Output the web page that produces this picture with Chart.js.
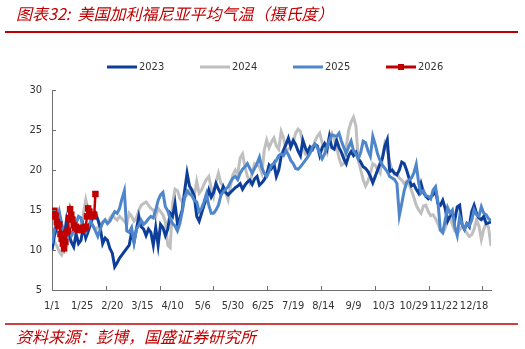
<!DOCTYPE html>
<html>
<head>
<meta charset="utf-8">
<script src="https://cdn.jsdelivr.net/npm/chart.js@4.4.1/dist/chart.umd.min.js"></script>
<style>
  body { margin: 0; background: #fff; }
  #wrap { width: 525px; height: 349px; }
</style>
</head>
<body>
<div id="wrap"><canvas id="chartCanvas" width="525" height="349"></canvas></div>
<script>
// 美国加利福尼亚平均气温（摄氏度），按年内日序排列
const tituloGrafico = '图表32:  美国加利福尼亚平均气温（摄氏度）';
const fonteDados = '资料来源：彭博，国盛证券研究所';

const rotulosX = ['1/1', '1/25', '2/20', '3/15', '4/10', '5/6', '5/30', '6/25', '7/19', '8/14', '9/9', '10/3', '10/29', '11/22', '12/18'];
const intervaloRotulo = 25; // dias entre rótulos do eixo X
const ticksY = [5, 10, 15, 20, 25, 30];

const anos = ['2023', '2024', '2025', '2026'];
const passoDias = 2;      // 2023-2025: um valor a cada 2 dias
const passoDias2026 = 1;  // 2026: diário

const temp2023 = [
  10.0, 11.8, 12.8, 13.8, 12.5, 11.6, 13.7, 12.0, 11.0, 10.4,
  12.0, 10.8, 11.2, 12.9, 11.5, 12.3, 13.2, 14.2, 14.6, 13.8,
  12.8, 10.8, 11.5, 11.2, 10.2, 9.6, 7.9, 8.4, 9.0, 9.4,
  9.8, 10.2, 10.6, 12.2, 11.0, 12.6, 14.2, 12.9, 12.6, 11.8,
  12.6, 12.2, 10.6, 12.8, 10.6, 13.2, 12.8, 11.8, 12.6, 14.6,
  14.2, 15.8, 13.3, 14.0, 15.0, 17.4, 19.6, 18.0, 17.5, 16.7,
  14.2, 13.6, 14.6, 15.6, 16.4, 17.5, 16.6, 17.2, 18.3, 17.6,
  17.0, 17.9, 17.2, 16.9, 17.2, 17.5, 17.8, 18.0, 18.3, 17.6,
  18.1, 18.5, 18.75, 18.2, 18.9, 19.2, 18.1, 18.4, 18.8, 19.4,
  20.6, 20.2, 20.8, 19.2, 20.0, 21.7, 22.5, 23.2, 24.0, 22.9,
  23.7, 23.2, 22.4, 21.8, 23.7, 22.8, 22.2, 22.9, 22.6, 23.2,
  23.0, 21.8, 22.8, 23.3, 22.6, 24.2, 22.8, 22.6, 23.7, 22.8,
  22.2, 21.4, 20.8, 21.8, 22.3, 21.8, 22.2, 21.4, 21.0, 20.4,
  20.2, 19.8, 19.2, 18.4, 19.2, 20.0, 20.8, 21.5, 23.0, 23.8,
  19.8, 20.0, 19.6, 19.4, 20.0, 21.0, 20.8, 20.0, 19.0, 18.0,
  18.2, 17.6, 17.1, 18.3, 17.2, 16.7, 16.4, 16.6, 16.9, 17.5,
  15.8, 15.6, 16.2, 15.2, 13.6, 14.2, 14.6, 13.8, 15.4, 15.6,
  13.2, 12.6, 13.3, 12.9, 14.8, 15.6, 14.6, 14.0, 13.8, 14.2,
  13.3, 13.4, 13.5
];

const temp2024 = [
  12.0, 11.0, 10.5, 9.8, 9.4, 10.2, 10.5, 11.2, 11.8, 12.0,
  12.5, 12.3, 13.0, 14.5, 16.3, 15.0, 13.5, 13.0, 12.6, 12.8,
  13.2, 13.5, 13.8, 13.4, 14.0, 14.4, 14.0, 13.75, 14.2, 13.9,
  13.6, 13.2, 14.6, 14.2, 13.6, 14.0, 15.0, 15.6, 15.8, 16.0,
  15.6, 15.2, 15.0, 14.2, 15.2, 14.8, 14.4, 13.5, 10.6, 10.3,
  15.8, 17.6, 17.4, 16.5, 16.0, 16.4, 17.0, 17.5, 17.2, 16.8,
  18.6, 17.1, 17.5, 18.2, 18.8, 19.2, 17.8, 16.7, 18.5, 19.6,
  18.4, 17.9, 17.2, 16.3, 18.0, 19.4, 20.0, 19.5, 21.5, 22.0,
  20.4, 19.2, 18.4, 19.6, 20.8, 20.6, 20.4, 19.6, 22.5, 23.75,
  22.8, 23.5, 24.0, 23.0, 22.6, 24.8, 24.0, 22.4, 22.6, 22.9,
  23.4, 24.6, 25.1, 24.8, 23.3, 22.0, 21.8, 22.6, 22.5, 23.6,
  24.2, 24.6, 23.4, 22.6, 22.1, 24.0, 24.6, 23.8, 22.9, 21.5,
  20.6, 20.8, 22.9, 25.0, 26.0, 26.6, 25.5, 21.2, 20.0, 18.8,
  18.0, 18.6, 19.6, 20.8, 20.6, 20.0, 19.6, 21.5, 23.3, 22.6,
  21.0, 20.0, 19.4, 19.4, 19.0, 18.75, 18.3, 18.6, 18.2, 17.5,
  16.6, 15.6, 15.0, 14.6, 15.5, 15.6, 14.8, 14.3, 14.4, 13.9,
  13.3, 12.5, 12.1, 12.7, 13.6, 14.2, 13.2, 12.4, 12.1, 12.5,
  12.9, 12.6, 12.1, 11.7, 11.9, 12.6, 13.75, 13.0, 11.3, 12.6,
  13.3, 12.8, 10.5
];

const temp2025 = [
  10.8, 12.5, 13.6, 14.8, 13.3, 12.0, 11.3, 12.8, 11.8, 12.5,
  13.3, 14.2, 14.0, 12.6, 12.2, 12.9, 13.6, 13.0, 12.4, 11.7,
  12.6, 13.4, 13.75, 13.3, 13.6, 14.2, 14.8, 14.6, 15.2, 16.4,
  17.4, 12.4, 12.2, 12.8, 10.9, 12.6, 13.1, 13.7, 13.2, 13.5,
  13.9, 14.2, 14.0, 15.0, 16.2, 16.9, 17.2, 15.4, 14.9, 13.9,
  13.3, 13.0, 12.4, 13.3, 14.8, 16.6, 17.4, 17.0, 16.8, 16.2,
  16.0, 14.8, 15.2, 16.0, 17.0, 15.6, 14.6, 14.6, 15.0, 15.6,
  16.8, 17.3, 17.6, 17.9, 18.5, 19.0, 19.2, 18.8, 19.6, 20.1,
  20.4, 20.8, 20.2, 19.6, 20.2, 20.8, 21.6, 20.3, 19.6, 19.2,
  19.8, 20.6, 20.8, 21.2, 21.8, 22.0, 21.8, 22.4, 21.9, 21.2,
  20.8, 20.2, 20.1, 20.4, 20.8, 21.2, 21.6, 22.1, 22.9, 23.2,
  22.8, 22.1, 21.4, 22.0, 22.9, 23.7, 24.4, 24.3, 24.2, 24.6,
  23.6, 22.8, 22.1, 22.9, 23.6, 22.4, 22.0, 21.4, 22.2, 23.6,
  23.4, 22.4, 21.7, 24.2, 23.2, 22.0, 21.2, 20.6, 20.2, 19.8,
  19.2, 19.0, 18.8, 18.3, 14.3, 15.8, 17.4, 18.4, 18.75, 19.0,
  19.6, 20.7, 18.4, 17.1, 17.4, 16.8, 16.7, 16.4, 17.5, 17.9,
  16.0, 12.5, 12.2, 13.7, 15.3, 14.6, 15.0, 12.9, 11.8, 14.2,
  13.3, 12.6, 13.3, 13.0, 13.7, 15.0, 14.4, 14.2, 15.4, 14.6,
  14.4, 13.9, 13.7
];

const temp2026 = [
  14.2, 14.6, 14.9, 14.3, 13.5, 13.0, 13.2, 12.0, 11.4, 10.8,
  10.2, 11.0, 12.2, 12.4, 14.0, 15.1, 14.4, 13.8, 13.1, 12.8,
  12.9, 12.6, 12.5, 12.6, 12.7, 12.5, 12.8, 12.7, 12.9, 14.2,
  15.2, 14.8, 14.4, 14.3, 14.2, 14.4, 17.0
];

const cores = ['#0d3f9a', '#bfbfbf', '#4f86cb', '#c00000'];
const corEixo = '#6f6f6f';
const corTexto = '#333333';
const corTitulo = '#c00000';
const fonteLatina = "'DejaVu Sans Condensed', 'Liberation Sans', sans-serif";
const fonteTitulo = "'Noto Sans CJK SC', sans-serif";

function paraPontos(valores, passo) {
  return valores.map((v, i) => ({ x: i * passo, y: v }));
}

// título, linhas vermelhas e fonte no rodapé
const pluginMoldura = {
  id: 'moldura',
  afterDraw(chart) {
    const ctx = chart.ctx;
    ctx.save();
    ctx.fillStyle = corTitulo;
    ctx.textBaseline = 'middle';
    ctx.textAlign = 'left';
    ctx.font = 'italic 16px ' + fonteTitulo;
    ctx.fillText(tituloGrafico, 16, 14);
    ctx.font = 'italic 16px ' + fonteTitulo;
    ctx.fillText(fonteDados, 16, 337);

    ctx.strokeStyle = corTitulo;
    ctx.lineWidth = 2;
    ctx.beginPath();
    ctx.moveTo(5, 32);
    ctx.lineTo(518, 32);
    ctx.stroke();
    ctx.lineWidth = 1.5;
    ctx.beginPath();
    ctx.moveTo(5, 324);
    ctx.lineTo(518, 324);
    ctx.stroke();
    ctx.restore();
  }
};

// legenda própria: traço de 30px e marcador quadrado para 2026
const pluginLegenda = {
  id: 'legendaPropria',
  afterDraw(chart) {
    const ctx = chart.ctx;
    const inicio = 107, passo = 93, y = 67;
    ctx.save();
    ctx.font = '11px ' + fonteLatina;
    ctx.textBaseline = 'middle';
    ctx.textAlign = 'left';
    anos.forEach((ano, i) => {
      const x = inicio + i * passo;
      ctx.strokeStyle = cores[i];
      ctx.lineWidth = 3;
      ctx.beginPath();
      ctx.moveTo(x, y);
      ctx.lineTo(x + 30, y);
      ctx.stroke();
      if (i === 3) {
        ctx.fillStyle = cores[i];
        ctx.fillRect(x + 12, y - 3, 6, 6);
      }
      ctx.fillStyle = corTexto;
      ctx.fillText(ano, x + 32, y + 0.5);
    });
    ctx.restore();
  }
};

// marcas de escala voltadas para dentro da área do gráfico
const pluginMarcas = {
  id: 'marcasInternas',
  afterDatasetsDraw(chart) {
    const ctx = chart.ctx;
    const sx = chart.scales.x, sy = chart.scales.y;
    const area = chart.chartArea;
    ctx.save();
    ctx.strokeStyle = corEixo;
    ctx.lineWidth = 1;
    ticksY.forEach(v => {
      const py = Math.round(sy.getPixelForValue(v)) + 0.5;
      ctx.beginPath();
      ctx.moveTo(area.left, py);
      ctx.lineTo(area.left + 4, py);
      ctx.stroke();
    });
    for (let k = 1; k <= 8; k++) {
      const px = Math.round(sx.getPixelForValue(k * 44.6)) + 0.5;
      ctx.beginPath();
      ctx.moveTo(px, area.bottom);
      ctx.lineTo(px, area.bottom - 4);
      ctx.stroke();
    }
    ctx.restore();
  }
};

const series = [temp2023, temp2024, temp2025, temp2026];
const ordens = [2, 3, 1, 0];

const ctx = document.getElementById('chartCanvas');
new Chart(ctx, {
  type: 'line',
  data: {
    datasets: anos.map((ano, i) => {
      const e2026 = i === 3;
      return {
        label: ano,
        data: paraPontos(series[i], e2026 ? passoDias2026 : passoDias),
        borderColor: cores[i],
        backgroundColor: cores[i],
        borderWidth: e2026 ? 2.5 : 3,
        tension: 0,
        pointRadius: e2026 ? 4.6 : 0,
        pointStyle: 'rect',
        pointBorderWidth: 0,
        order: ordens[i]
      };
    })
  },
  options: {
    responsive: false,
    animation: false,
    layout: { padding: { top: 90, right: 34, left: 0, bottom: 0 } },
    scales: {
      x: {
        type: 'linear',
        min: 0,
        max: 364,
        afterFit: s => { s.height = 59; },
        afterBuildTicks: s => {
          s.ticks = rotulosX.map((_, i) => ({ value: i * intervaloRotulo }));
        },
        grid: { display: false, drawTicks: false },
        border: { display: true, color: corEixo, width: 1 },
        ticks: {
          autoSkip: false,
          maxRotation: 0,
          padding: 10,
          color: corTexto,
          font: { family: fonteLatina, size: 11 },
          callback: value => rotulosX[Math.round(value / intervaloRotulo)]
        }
      },
      y: {
        min: 5,
        max: 30,
        afterFit: s => { s.width = 52; },
        grid: { display: false, drawTicks: false },
        border: { display: true, color: corEixo, width: 1 },
        ticks: {
          stepSize: 5,
          padding: 10,
          color: corTexto,
          font: { family: fonteLatina, size: 11 }
        }
      }
    },
    plugins: {
      legend: { display: false },
      tooltip: { enabled: false }
    }
  },
  plugins: [pluginMoldura, pluginLegenda, pluginMarcas]
});
</script>
</body>
</html>
